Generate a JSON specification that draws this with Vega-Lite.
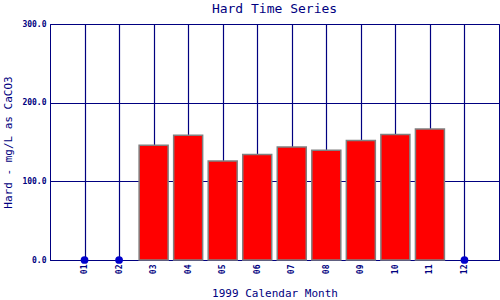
{
  "$schema": "https://vega.github.io/schema/vega-lite/v6.json",
  "width": 449,
  "height": 236,
  "autosize": {"type": "none"},
  "padding": {"left": 50, "top": 24, "right": 1, "bottom": 40},
  "background": "white",
  "title": {
    "text": "Hard Time Series",
    "font": "DejaVu Sans Mono",
    "fontSize": 13,
    "fontWeight": "normal",
    "color": "#000080",
    "anchor": "middle",
    "offset": 4
  },
  "config": {
    "view": {"stroke": "#000080", "strokeWidth": 1}
  },
  "data": {
    "values": [
      {"month": 1, "hard": 0, "status": "missing"},
      {"month": 2, "hard": 0, "status": "missing"},
      {"month": 3, "hard": 146, "status": "measured"},
      {"month": 4, "hard": 158.5, "status": "measured"},
      {"month": 5, "hard": 126, "status": "measured"},
      {"month": 6, "hard": 134, "status": "measured"},
      {"month": 7, "hard": 143.5, "status": "measured"},
      {"month": 8, "hard": 139.5, "status": "measured"},
      {"month": 9, "hard": 152, "status": "measured"},
      {"month": 10, "hard": 159.5, "status": "measured"},
      {"month": 11, "hard": 166.5, "status": "measured"},
      {"month": 12, "hard": 0, "status": "missing"}
    ]
  },
  "encoding": {
    "x": {
      "field": "month",
      "type": "quantitative",
      "scale": {"domain": [0, 13], "nice": false, "zero": false, "padding": 0},
      "axis": {
        "values": [1, 2, 3, 4, 5, 6, 7, 8, 9, 10, 11, 12],
        "labelExpr": "datum.value < 10 ? '0' + datum.value : '' + datum.value",
        "labelAngle": -90,
        "labelFont": "DejaVu Sans Mono",
        "labelFontSize": 8,
        "labelFontWeight": "bold",
        "labelColor": "#000080",
        "labelPadding": 4,
        "ticks": false,
        "domain": true,
        "domainColor": "#000080",
        "grid": true,
        "gridColor": "#000080",
        "gridOpacity": 1,
        "gridWidth": 1.2,
        "title": "1999 Calendar Month",
        "titleFont": "DejaVu Sans Mono",
        "titleFontSize": 11,
        "titleFontWeight": "normal",
        "titleColor": "#000080",
        "titlePadding": 14
      }
    },
    "y": {
      "field": "hard",
      "type": "quantitative",
      "scale": {"domain": [0, 300], "nice": false},
      "axis": {
        "values": [0, 100, 200, 300],
        "format": ".1f",
        "labelFont": "DejaVu Sans Mono",
        "labelFontSize": 8,
        "labelFontWeight": "bold",
        "labelColor": "#000080",
        "labelPadding": 4,
        "ticks": false,
        "domain": true,
        "domainColor": "#000080",
        "grid": true,
        "gridColor": "#000080",
        "gridOpacity": 1,
        "gridWidth": 1.2,
        "title": "Hard - mg/L as CaCO3",
        "titleFont": "DejaVu Sans Mono",
        "titleFontSize": 11,
        "titleFontWeight": "normal",
        "titleColor": "#000080",
        "titlePadding": 8
      }
    }
  },
  "layer": [
    {
      "transform": [{"filter": "datum.status === 'measured'"}],
      "mark": {"type": "bar", "size": 29, "color": "#ff0000", "stroke": "#808080", "strokeWidth": 1.5}
    },
    {
      "transform": [{"filter": "datum.status === 'missing'"}],
      "mark": {"type": "point", "filled": true, "shape": "circle", "size": 60, "color": "#0000cc", "opacity": 1}
    }
  ]
}
